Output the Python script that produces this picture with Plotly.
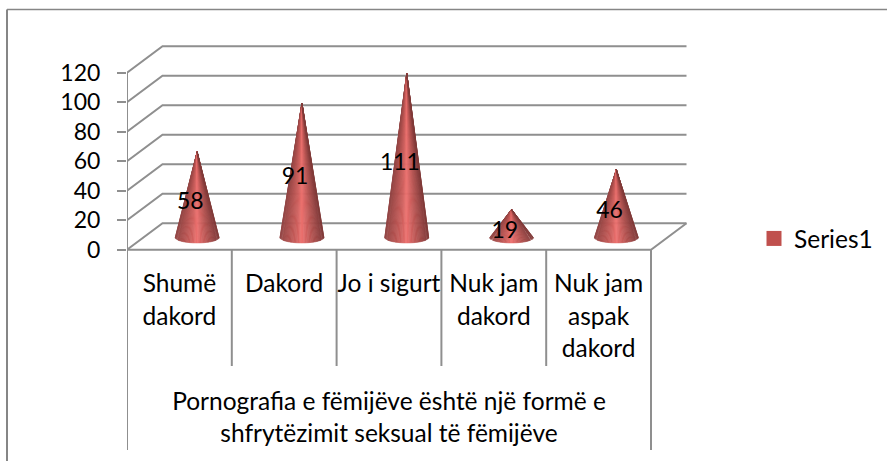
import math
import plotly.graph_objects as go

categories = [["Shumë", "dakord"], ["Dakord"], ["Jo i sigurt"], ["Nuk jam", "dakord"], ["Nuk jam", "aspak", "dakord"]]
values = [58, 91, 111, 19, 46]
y_ticks = [0, 20, 40, 60, 80, 100, 120]
group_title = ["Pornografia e fëmijëve është një formë e", "shfrytëzimit seksual të fëmijëve"]
series_name = "Series1"

# pixel scale of the plot area
L, R, T, B = 127, 688, 45, 451
BASE = 249.8
PX_X = 104.8
PX_Y = 1.475
DEPTH_X = 35.5 / PX_X
DEPTH_Y = 26.5 / PX_Y
FONT = "Lato"
FS = 24.5
FS_NUM = 23
GRID = "#8f8f8f"
N = len(values)

stops = [(-1.0, (145, 68, 67)), (-0.6, (176, 80, 78)), (-0.2, (208, 96, 94)), (0.0, (238, 113, 111)),
         (0.2, (212, 98, 96)), (0.55, (172, 79, 77)), (1.0, (128, 57, 56))]

def shade(t):
    for (a, ca), (b, cb) in zip(stops, stops[1:]):
        if t <= b:
            f = (t - a) / (b - a)
            c = [round(p + (q - p) * f) for p, q in zip(ca, cb)]
            return f"rgb({c[0]},{c[1]},{c[2]})"
    return "rgb(128,57,56)"

fig = go.Figure()

def line(xs, ys, width=2.0, color=GRID):
    fig.add_trace(go.Scatter(x=xs, y=ys, mode="lines", line=dict(color=color, width=width),
                             showlegend=False, hoverinfo="skip"))

def py(pixel):
    return (BASE - pixel) / PX_Y

# walls and floor
for v in y_ticks:
    line([0, DEPTH_X, N + DEPTH_X], [v, v + DEPTH_Y, v + DEPTH_Y])
line([0, N, N + DEPTH_X], [0, 0, DEPTH_Y])
line([0, 0], [0, y_ticks[-1]])

# multi-level category table
for i in range(N + 1):
    line([i, i], [0, py(450) if i in (0, N) else py(366)])

# cones, split into shaded strips
STRIPS = 48
a = 22 / PX_X
b = 5.5 / PX_Y
for k in range(STRIPS):
    th0 = math.pi * (1 - k / STRIPS)
    th1 = math.pi * (1 - (k + 1) / STRIPS)
    xs, ys = [], []
    for i, v in enumerate(values):
        cx = i + 0.5 + DEPTH_X / 2
        cy = DEPTH_Y / 2 - 0.6
        xs += [cx, cx + a * math.cos(th0), cx + a * math.cos(th1), cx, None]
        ys += [cy + v, cy - b * math.sin(th0), cy - b * math.sin(th1), cy + v, None]
    col = shade((math.cos(th0) + math.cos(th1)) / 2)
    fig.add_trace(go.Scatter(x=xs, y=ys, mode="lines", fill="toself", fillcolor=col,
                             line=dict(color=col, width=0.6), showlegend=False, hoverinfo="skip"))

def text(xs, ys, labels, size=FS):
    fig.add_trace(go.Scatter(x=xs, y=ys, mode="text", text=labels, textposition="middle center",
                             textfont=dict(family=FONT, size=size, color="black"),
                             showlegend=False, hoverinfo="skip", cliponaxis=False))

# value labels
text([i + 0.5 + DEPTH_X / 2 - 0.065 for i in range(N)], [v / 2 + 2.7 for v in values], [str(v) for v in values], FS_NUM)

# category labels, line by line
LINE = 32.5
for i, cat in enumerate(categories):
    text([i + 0.5] * len(cat), [py(286 + j * LINE) for j in range(len(cat))], cat)
text([N / 2] * 2, [py(403.5 + j * 32) for j in range(2)], group_title)

# legend entry
fig.add_trace(go.Scatter(x=[None], y=[None], mode="markers", name=series_name,
                         marker=dict(symbol="square", size=15, color="#C0504D")))

W = R - L
fig.update_layout(
    width=887, height=461,
    margin=dict(l=L, r=887 - R, t=T, b=461 - B, autoexpand=False),
    paper_bgcolor="white", plot_bgcolor="white",
    font=dict(family=FONT, size=FS, color="black"),
    xaxis=dict(range=[0, W / PX_X], visible=False),
    yaxis=dict(range=[py(B), py(T)], showgrid=False, zeroline=False, showline=False,
               tickmode="array", tickvals=y_ticks, ticktext=[str(t) for t in y_ticks],
               ticks="outside", ticklen=9, tickwidth=2, tickcolor=GRID,
               ticklabelstandoff=12, tickfont=dict(family=FONT, size=FS_NUM, color="black")),
    legend=dict(x=(754 - L) / W, y=(B - 216) / (B - T), xanchor="left", yanchor="top",
                bgcolor="rgba(0,0,0,0)", font=dict(family=FONT, size=FS), itemwidth=30),
    shapes=[
        dict(type="line", xref="paper", yref="paper", x0=(7 - L) / W, x1=(7 - L) / W,
             y0=(B - 461) / (B - T), y1=(B - 9.5) / (B - T), line=dict(color="#868686", width=2)),
        dict(type="line", xref="paper", yref="paper", x0=(7 - L) / W, x1=(887 - L) / W,
             y0=(B - 9.5) / (B - T), y1=(B - 9.5) / (B - T), line=dict(color="#868686", width=1.5)),
    ],
)
fig.write_html("out.html", config=dict(displayModeBar=False),
               post_script="document.body.style.margin='0';document.documentElement.style.overflow='hidden';")
